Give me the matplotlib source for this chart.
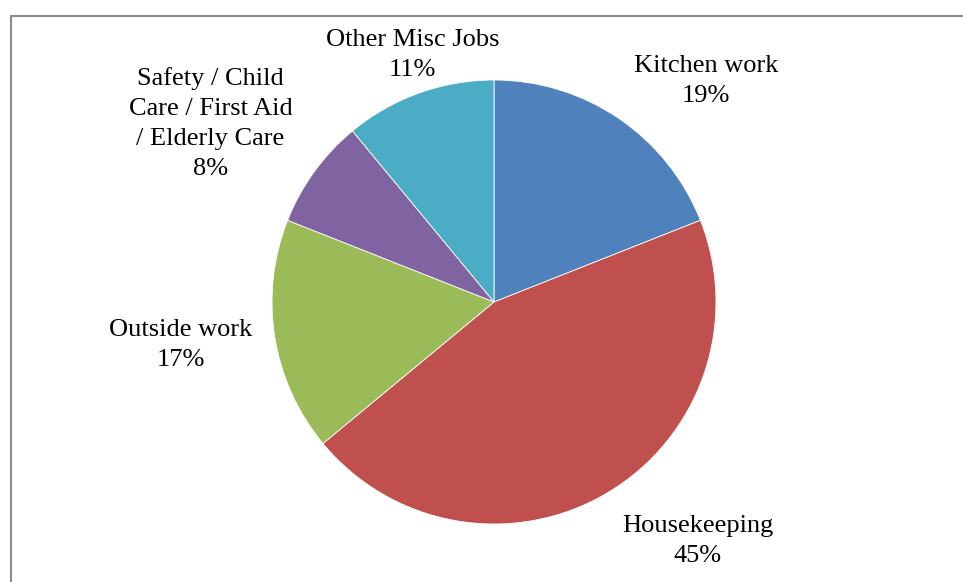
import matplotlib.pyplot as plt
from matplotlib.patches import Rectangle

# Share of jobs by category, clockwise from 12 o'clock
categories = ["Kitchen work", "Housekeeping", "Outside work",
              "Safety / Child\nCare / First Aid\n/ Elderly Care", "Other Misc Jobs"]
shares = [19, 45, 17, 8, 11]
colors = ["#4F81BD", "#C0504D", "#9BBB59", "#8064A2", "#4BACC6"]

# label centres in pie units (radius = 1)
label_pos = [(0.955, 0.997), (0.918, -1.076), (-1.410, -0.192),
             (-1.277, 0.805), (-0.368, 1.112)]

plt.rcParams["font.family"] = ["Liberation Serif", "DejaVu Serif"]

W, H = 963, 582
fig = plt.figure(figsize=(W / 100, H / 100), dpi=100)

# chart frame, cut off at the right and bottom edges
fig.patches.append(Rectangle((10.5 / W, -0.1), 1.1, 1 - 15.5 / H + 0.1,
                             transform=fig.transFigure, fill=False,
                             edgecolor="#8c8c8c", linewidth=1.5))

cx, cy, r = 494, 302, 222
ax = fig.add_axes([(cx - r) / W, (H - cy - r) / H, 2 * r / W, 2 * r / H])
ax.pie(shares, colors=colors, startangle=90, counterclock=False, radius=1,
       wedgeprops=dict(edgecolor="white", linewidth=0.6))
ax.set_xlim(-1, 1)
ax.set_ylim(-1, 1)
ax.set_aspect("equal")
ax.axis("off")

for name, val, (x, y) in zip(categories, shares, label_pos):
    ax.text(x, y, f"{name}\n{val}%", ha="center", va="center",
            fontsize=19, linespacing=1.46, color="black", clip_on=False)

fig.savefig("out.png", dpi=100)
